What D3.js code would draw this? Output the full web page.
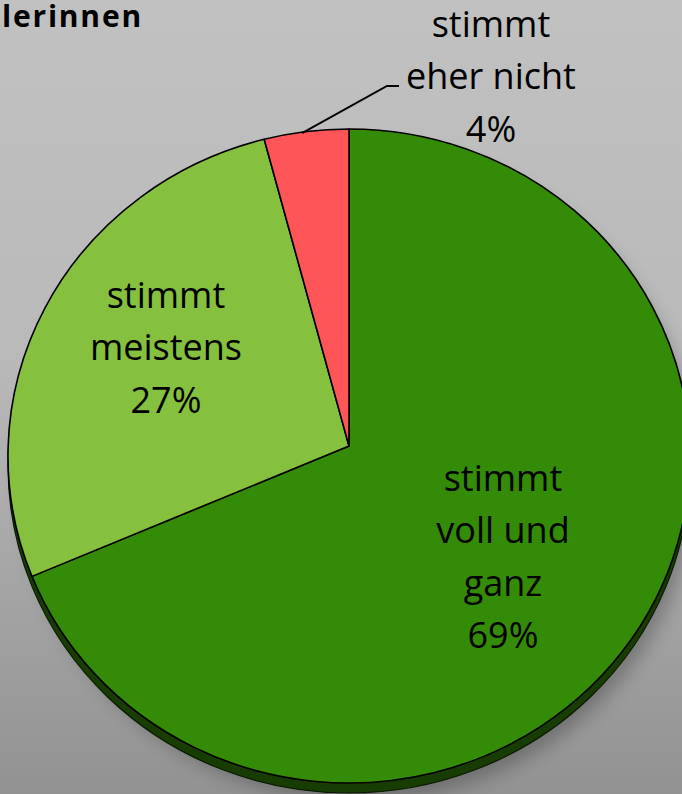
<!DOCTYPE html>
<html>
<head>
<meta charset="utf-8">
<script src="https://cdn.jsdelivr.net/npm/d3@7"></script>
<style>
  html, body { margin: 0; padding: 0; background: #c0c0c0; }
  svg { display: block; }
</style>
</head>
<body>
<svg id="chart" width="682" height="794"></svg>
<script>
// Survey answers (share of responses, %)
const categories = ["stimmt voll und ganz", "stimmt meistens", "stimmt eher nicht"];
const values = [69, 27, 4];
const labelLines = [
  ["stimmt", "voll und", "ganz", "69%"],
  ["stimmt", "meistens", "27%"],
  ["stimmt", "eher nicht", "4%"]
];
const colors = ["#338b07", "#85c13f", "#fe5558"];
const title = "lerinnen";

const W = 682, H = 794;
const svg = d3.select("#chart");
const defs = svg.append("defs");

// background gradient
const bg = defs.append("linearGradient").attr("id", "bg").attr("x1", 0).attr("y1", 0).attr("x2", 0).attr("y2", 1);
bg.append("stop").attr("offset", "0%").attr("stop-color", "#c1c1c1");
bg.append("stop").attr("offset", "45%").attr("stop-color", "#b9b9b9");
bg.append("stop").attr("offset", "100%").attr("stop-color", "#929292");
svg.append("rect").attr("width", W).attr("height", H).attr("fill", "url(#bg)");

const blur = defs.append("filter").attr("id", "shadow").attr("x", "-20%").attr("y", "-20%").attr("width", "140%").attr("height", "140%");
blur.append("feGaussianBlur").attr("stdDeviation", 9);

// tilted pie geometry: ellipse outline with the apex slightly above its centre
const cx = 349, cy = 456, rx = 341, ry = 327;
const apex = [349, 446];
const depth = 10;

const pie = d3.pie().sort(null).value(d => d)(values);
const pt = a => [cx + rx * Math.sin(a), cy - ry * Math.cos(a)];

function slicePath(d, dy = 0) {
  const p0 = pt(d.startAngle), p1 = pt(d.endAngle);
  const large = (d.endAngle - d.startAngle) > Math.PI ? 1 : 0;
  return `M${apex[0]},${apex[1] + dy}L${p0[0]},${p0[1] + dy}` +
         `A${rx},${ry} 0 ${large} 1 ${p1[0]},${p1[1] + dy}Z`;
}

// drop shadow
svg.append("ellipse")
  .attr("cx", cx + 10).attr("cy", cy + depth + 8)
  .attr("rx", rx - 4).attr("ry", ry)
  .attr("fill", "#000").attr("opacity", 0.25)
  .attr("filter", "url(#shadow)");

// side wall (depth)
svg.append("ellipse")
  .attr("cx", cx).attr("cy", cy + depth)
  .attr("rx", rx).attr("ry", ry)
  .attr("fill", "#173d02")
  .attr("stroke", "#0a1a00").attr("stroke-width", 1.2);

// top faces
svg.append("g").selectAll("path")
  .data(pie)
  .join("path")
  .attr("d", d => slicePath(d))
  .attr("fill", (d, i) => colors[i])
  .attr("stroke", "#000")
  .attr("stroke-width", 1.6)
  .attr("stroke-linejoin", "round");

// leader line for the small slice
const small = pie[2];
const leadStart = pt(small.startAngle + (small.endAngle - small.startAngle) * 0.45);
svg.append("polyline")
  .attr("points", [[leadStart[0], leadStart[1] + 1], [387, 86], [399, 86]].map(p => p.join(",")).join(" "))
  .attr("fill", "none")
  .attr("stroke", "#000")
  .attr("stroke-width", 2);

// labels
const font = "'Open Sans', sans-serif";
const labelPos = [[503, 478], [166, 295], [491, 24]];
const lineH = 52.5;
const lbl = svg.append("g")
  .attr("font-family", font)
  .attr("font-size", 36)
  .attr("fill", "#000")
  .attr("text-anchor", "middle");
labelLines.forEach((lines, i) => {
  const t = lbl.append("text");
  lines.forEach((s, j) => {
    t.append("tspan")
      .attr("x", labelPos[i][0])
      .attr("y", labelPos[i][1] + j * lineH)
      .attr("dy", "0.36em")
      .text(s);
  });
});

// heading fragment at the top-left
svg.append("text")
  .attr("x", 2).attr("y", 27)
  .attr("text-anchor", "start")
  .style("font-family", font)
  .style("font-weight", "700")
  .style("font-size", "30px")
  .style("letter-spacing", "1.8px")
  .attr("fill", "#000")
  .text(title);
</script>
</body>
</html>
